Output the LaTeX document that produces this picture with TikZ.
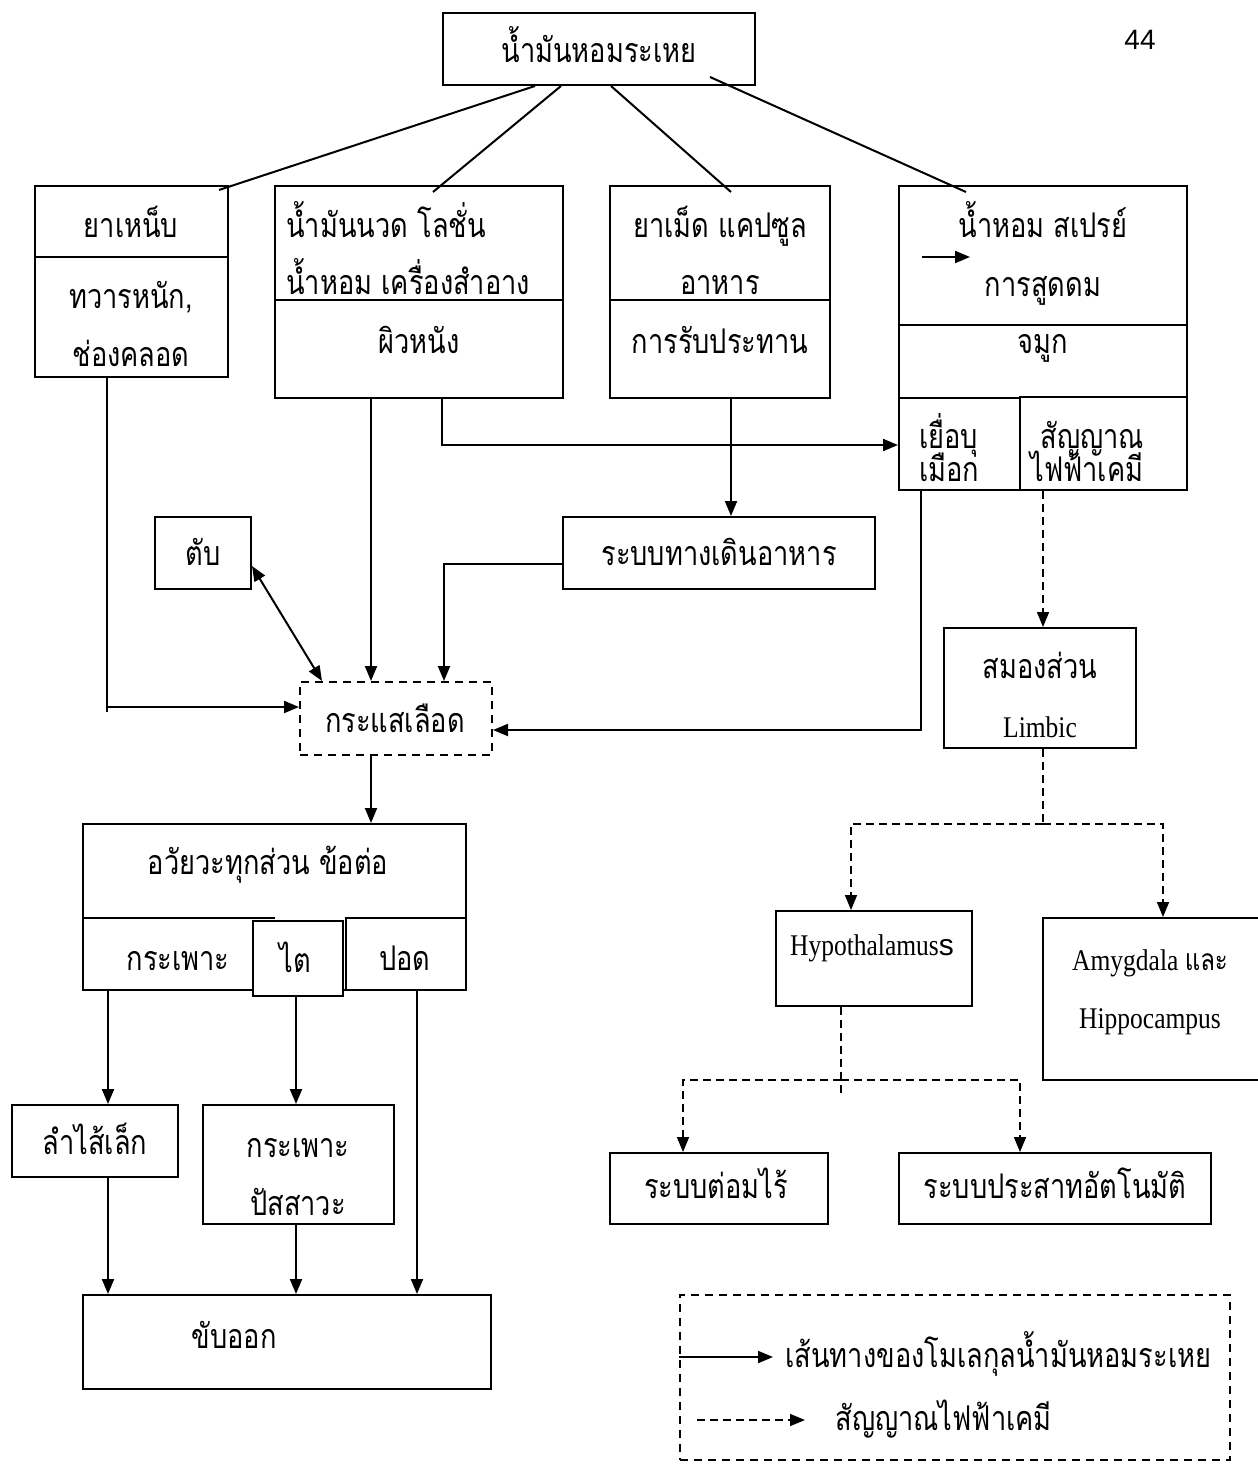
\documentclass[tikz,border=0pt]{standalone}
\usepackage{fontspec}
\setmainfont{Loma}[Script=Thai,FakeStretch=0.8]
\newfontfamily\thaifont{Loma}[Script=Thai,FakeStretch=0.8]
\newfontfamily\latinfont{Liberation Serif}[FakeStretch=0.85]
\newfontfamily\numfont{Liberation Sans}
\usetikzlibrary{arrows.meta,fit,calc}
\newcommand\thsize{\fontsize{17}{22}\selectfont}
\newcommand\ltsize{\fontsize{15}{18}\selectfont}
\begin{document}
\begin{tikzpicture}[x=0.5pt,y=-0.5pt,
  box/.style={draw,line width=1pt,inner sep=0pt},
  dbox/.style={draw,line width=1pt,inner sep=0pt,dash pattern=on 4pt off 3pt},
  tx/.style={font=\thsize,inner sep=0pt,anchor=base},
  txw/.style={font=\thsize,inner sep=0pt,anchor=base west},
  lt/.style={font=\latinfont\ltsize,inner sep=0pt,anchor=base},
  ln/.style={line width=1pt},
  arr/.style={line width=1pt,-{Triangle[length=7.5pt,width=6pt]}},
  biarr/.style={line width=1pt,{Triangle[length=7.5pt,width=6pt]}-{Triangle[length=7.5pt,width=6pt]}},
  dl/.style={line width=0.8pt,dash pattern=on 4pt off 2.5pt},
  darr/.style={line width=0.8pt,dash pattern=on 4pt off 2.5pt,-{Triangle[length=7.5pt,width=6pt]}}]
\useasboundingbox (0,0) rectangle (1257,1465);
\fill[white] (0,0) rectangle (1257,1465);

% ---------- boxes ----------
\node[box,fit={(443,13) (755,85)}] (top) {};
\node[box,fit={(35,186) (228,377)}] (sup) {};
\node[box,fit={(275,186) (563,398)}] (mas) {};
\node[box,fit={(610,186) (830,398)}] (pill) {};
\node[box,fit={(899,186) (1187,490)}] (perf) {};
\node[box,fit={(899,398) (1020,490)}] (muc) {};
\node[box,fit={(1020,397) (1187,490)}] (sig) {};
\node[box,fit={(155,517) (251,589)}] (liver) {};
\node[box,fit={(563,517) (875,589)}] (gi) {};
\node[dbox,fit={(300,682) (492,755)}] (blood) {};
\node[box,fit={(944,628) (1136,748)}] (limb) {};
\node[box,fit={(83,824) (466,990)}] (org) {};
\node[box,fill=white,fit={(253,921) (343,996)}] (kid) {};
\node[box,fit={(346,918) (466,990)}] (lung) {};
\node[box,fit={(776,911) (972,1006)}] (hypo) {};
\node[box,fit={(1043,918) (1266,1080)}] (amyg) {};
\node[box,fit={(12,1105) (178,1177)}] (intest) {};
\node[box,fit={(203,1105) (394,1224)}] (blad) {};
\node[box,fit={(610,1153) (828,1224)}] (endo) {};
\node[box,fit={(899,1153) (1211,1224)}] (ans) {};
\node[box,fit={(83,1295) (491,1389)}] (exc) {};
\node[dbox,fit={(680,1295) (1230,1460)}] (legend) {};

% dividers
\draw[ln] (sup.west |- 0,257) -- (sup.east |- 0,257);
\draw[ln] (mas.west |- 0,300) -- (mas.east |- 0,300);
\draw[ln] (pill.west |- 0,300) -- (pill.east |- 0,300);
\draw[ln] (perf.west |- 0,325) -- (perf.east |- 0,325);
\draw[ln] (org.west |- 0,918) -- (275,918);

% ---------- texts ----------
\node[tx] (t0) at (599,63) {น้ำมันหอมระเหย};
\node[font=\numfont\fontsize{14}{16}\selectfont,inner sep=0pt,anchor=base] (pg) at (1140,50) {44};
\node[tx] (t1) at (131,238) {ยาเหน็บ};
\node[tx] (t2) at (131,309) {ทวารหนัก,};
\node[tx] (t3) at (131,366) {ช่องคลอด};
\node[txw] (t4) at (286,238) {น้ำมันนวด โลชั่น};
\node[txw] (t5) at (286,295) {น้ำหอม เครื่องสำอาง};
\node[tx] (t6) at (419,353) {ผิวหนัง};
\node[tx] (t7) at (720,238) {ยาเม็ด แคปซูล};
\node[tx] (t8) at (720,295) {อาหาร};
\node[tx] (t9) at (720,353) {การรับประทาน};
\node[tx] (t10) at (1043,238) {น้ำหอม สเปรย์};
\node[tx] (t11) at (1043,297) {การสูดดม};
\node[tx] (t12) at (1043,353) {จมูก};
\node[txw] (t13) at (919,448) {เยื่อบุ};
\node[txw] (t14) at (919,481) {เมือก};
\node[txw] (t15) at (1040,448) {สัญญาณ};
\node[txw] (t16) at (1030,481) {ไฟฟ้าเคมี};
\node[tx] (t17) at (203,565) {ตับ};
\node[tx] (t18) at (719,565) {ระบบทางเดินอาหาร};
\node[tx] (t19) at (395,732) {กระแสเลือด};
\node[tx] (t20) at (1040,678) {สมองส่วน};
\node[lt] (t21) at (1040,737) {Limbic};
\node[tx] (t22) at (268,874) {อวัยวะทุกส่วน ข้อต่อ};
\node[tx] (t23) at (178,970) {กระเพาะ};
\node[tx] (t24) at (295,972) {ไต};
\node[tx] (t25) at (405,970) {ปอด};
\node[lt] (t26) at (872,955) {Hypothalamus{\numfont s}};
\node[lt] (t27) at (1150,970) {Amygdala {\thaifont\fontsize{15}{18}\selectfont และ}};
\node[lt] (t28) at (1150,1028) {Hippocampus};
\node[tx] (t29) at (95,1154) {ลำไส้เล็ก};
\node[tx] (t30) at (298,1157) {กระเพาะ};
\node[tx] (t31) at (298,1215) {ปัสสาวะ};
\node[tx] (t32) at (716,1198) {ระบบต่อมไร้};
\node[tx] (t33) at (1055,1198) {ระบบประสาทอัตโนมัติ};
\node[tx] (t34) at (234,1348) {ขับออก};
\node[txw] (t35) at (785,1367) {เส้นทางของโมเลกุลน้ำมันหอมระเหย};
\node[txw] (t36) at (835,1430) {สัญญาณไฟฟ้าเคมี};

% ---------- connectors ----------
\draw[ln] (535,0 |- top.south) -- (219,190);
\draw[ln] (561,0 |- top.south) -- (433,192);
\draw[ln] (611,0 |- top.south) -- (731,192);
\draw[ln] (710,77) -- (966,192);

\coordinate (pa) at (922,257);
\coordinate (pb) at (970,257);
\draw[arr] (pa) -- (pb);

\coordinate (supend) at (107,712);
\draw[ln] (107,0 |- sup.south) -- (supend);
\draw[arr] (107,707) -- (blood.west |- 0,707);
\draw[arr] (371,0 |- mas.south) -- (371,0 |- blood.north);
\draw[arr] (442,0 |- mas.south) |- (muc.west |- 0,445);
\draw[arr] (731,0 |- pill.south) -- (731,0 |- gi.north);
\draw[arr] (gi.west |- 0,564) -| (444,0 |- blood.north);
\draw[biarr] (liver.east |- 0,566) -- (322,0 |- blood.north);
\draw[arr] (921,0 |- muc.south) |- (blood.east |- 0,730);

\draw[darr] (1043,0 |- sig.south) -- (1043,0 |- limb.north);
\coordinate (lj) at (1043,824);
\draw[dl] (1043,0 |- limb.south) -- (lj);
\draw[darr] (lj) -| (851,0 |- hypo.north);
\draw[darr] (lj) -| (1163,0 |- amyg.north);
\coordinate (hj) at (841,1080);
\draw[dl] (841,0 |- hypo.south) -- (841,1095);
\draw[darr] (hj) -| (683,0 |- endo.north);
\draw[darr] (hj) -| (1020,0 |- ans.north);

\draw[arr] (371,0 |- blood.south) -- (371,0 |- org.north);
\draw[arr] (108,0 |- org.south) -- (108,0 |- intest.north);
\draw[arr] (296,0 |- kid.south) -- (296,0 |- blad.north);
\draw[arr] (417,0 |- lung.south) -- (417,0 |- exc.north);
\draw[arr] (108,0 |- intest.south) -- (108,0 |- exc.north);
\draw[arr] (296,0 |- blad.south) -- (296,0 |- exc.north);

\draw[arr] (legend.west |- 0,1357) -- (773,1357);
\draw[darr] (697,1420) -- (805,1420);
\end{tikzpicture}
\end{document}
